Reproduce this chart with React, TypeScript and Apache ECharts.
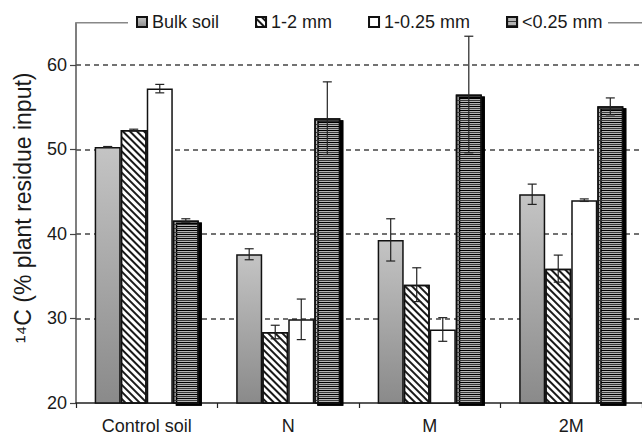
import React, { useEffect, useRef } from 'react';
import * as echarts from 'echarts';

const categories = ['Control soil', 'N', 'M', '2M'];
const seriesNames = ['Bulk soil', '1-2 mm', '1-0.25 mm', '<0.25 mm'];
const bulkSoil = [50.3, 37.6, 39.3, 44.7];
const bulkSoilErr = [0.05, 0.65, 2.5, 1.2];
const mm1to2 = [52.3, 28.4, 34.0, 35.9];
const mm1to2Err = [0.1, 0.8, 2.0, 1.6];
const mm1to025 = [57.2, 29.9, 28.7, 44.0];
const mm1to025Err = [0.5, 2.4, 1.4, 0.15];
const mmLt025 = [41.6, 53.7, 56.5, 55.1];
const mmLt025Err = [0.2, 4.3, 6.9, 1.0];
const yTicks = [20, 30, 40, 50, 60];

const FONT = '"Liberation Sans", Arial, sans-serif';
const GAP = 0.264;

export default function App() {
  const ref = useRef<HTMLDivElement>(null);
  useEffect(() => {
    if (!ref.current) return;
    const chart = echarts.init(ref.current, null, { renderer: 'svg' });
    const values = [bulkSoil, mm1to2, mm1to025, mmLt025];
    const errs = [bulkSoilErr, mm1to2Err, mm1to025Err, mmLt025Err];
    const errData: number[][] = [];
    values.forEach((arr, si) => arr.forEach((v, ci) => errData.push([ci, v, errs[si][ci], si])));

    const border = { borderColor: '#111', borderWidth: 1.5 };
    const styles: any[] = [
      {
        color: new echarts.graphic.LinearGradient(0, 0, 0, 1, [
          { offset: 0, color: '#c4c4c4' },
          { offset: 1, color: '#8a8a8a' },
        ]),
        ...border,
      },
      {
        color: '#ffffff',
        decal: { symbol: 'rect', color: '#1a1a1a', backgroundColor: '#ffffff', dashArrayX: [1, 0], dashArrayY: [1.6, 2.6], rotation: Math.PI / 4 },
        ...border,
      },
      { color: '#ffffff', ...border },
      {
        color: '#b4b4b4',
        decal: { symbol: 'rect', color: '#3a3a3a', backgroundColor: '#c0c0c0', dashArrayX: [1, 0], dashArrayY: [1, 2.2], rotation: 0 },
        ...border,
        shadowColor: '#000',
        shadowBlur: 0,
        shadowOffsetX: 3,
        shadowOffsetY: 2,
      },
    ];

    const barSeries = values.map((arr, si) => ({
      name: seriesNames[si],
      type: 'bar',
      data: arr,
      barGap: '0%',
      barCategoryGap: GAP * 100 + '%',
      itemStyle: styles[si],
      z: 2,
    }));

    chart.setOption({
      animation: false,
      backgroundColor: '#ffffff',
      textStyle: { fontFamily: FONT },
      grid: { left: 76, top: 22.7, width: 576, height: 384, containLabel: false },
      legend: {
        data: seriesNames,
        left: 136,
        top: 13,
        padding: 0,
        itemGap: 36,
        itemWidth: 10,
        itemHeight: 10,
        icon: 'rect',
        selectedMode: false,
        textStyle: { fontFamily: FONT, fontSize: 18, color: '#1a1a1a' },
      },
      xAxis: {
        type: 'category',
        data: categories,
        axisLine: { lineStyle: { color: '#222', width: 1.5 } },
        axisTick: { show: true, length: 5, lineStyle: { color: '#222', width: 1.2 } },
        axisLabel: { fontFamily: FONT, fontSize: 18, color: '#1a1a1a', margin: 14 },
        splitLine: { show: false },
      },
      yAxis: {
        type: 'value',
        min: 20,
        max: 65,
        interval: 10,
        name: '¹⁴C (% plant residue input)',
        nameLocation: 'middle',
        nameGap: 42,
        nameTextStyle: { fontFamily: FONT, fontSize: 23, color: '#1a1a1a', padding: [0, 0, 0, 10] },
        axisLine: { show: true, lineStyle: { color: '#555', width: 1.5 } },
        axisTick: { show: true, length: 6, customValues: yTicks, lineStyle: { color: '#444', width: 1.2 } },
        axisLabel: { fontFamily: FONT, fontSize: 18, color: '#1a1a1a', margin: 9, customValues: yTicks },
        splitLine: {
          show: true,
          showMinLine: false,
          lineStyle: { color: '#444', width: 1.5, type: [5, 4] },
        },
      },
      graphic: [
        { type: 'line', shape: { x1: 76, y1: 22.7, x2: 128, y2: 22.7 }, style: { stroke: '#888', lineWidth: 1.5 }, z: 10 },
        { type: 'line', shape: { x1: 608, y1: 22.7, x2: 642, y2: 22.7 }, style: { stroke: '#888', lineWidth: 1.5 }, z: 10 },
      ],
      series: [
        ...barSeries,
        {
          type: 'custom',
          z: 5,
          data: errData,
          encode: { x: 0, y: 1 },
          renderItem: (params: any, api: any) => {
            const ci = api.value(0);
            const v = api.value(1);
            const e = api.value(2);
            const si = api.value(3);
            const catW = api.size([1, 0])[0];
            const barW = (catW * (1 - GAP)) / 4;
            const c = api.coord([ci, v]);
            const x = c[0] + (si - 1.5) * barW;
            const top = api.coord([ci, v + e])[1];
            const bot = api.coord([ci, v - e])[1];
            const hw = 4.5;
            const st = { stroke: '#222', lineWidth: 1.2 };
            return {
              type: 'group',
              children: [
                { type: 'line', shape: { x1: x, y1: top, x2: x, y2: bot }, style: st },
                { type: 'line', shape: { x1: x - hw, y1: top, x2: x + hw, y2: top }, style: st },
                { type: 'line', shape: { x1: x - hw, y1: bot, x2: x + hw, y2: bot }, style: st },
              ],
            };
          },
        },
      ],
    });
    return () => chart.dispose();
  }, []);
  return <div ref={ref} style={{ width: 642, height: 435, position: 'absolute', left: 0, top: 0 }} />;
}
